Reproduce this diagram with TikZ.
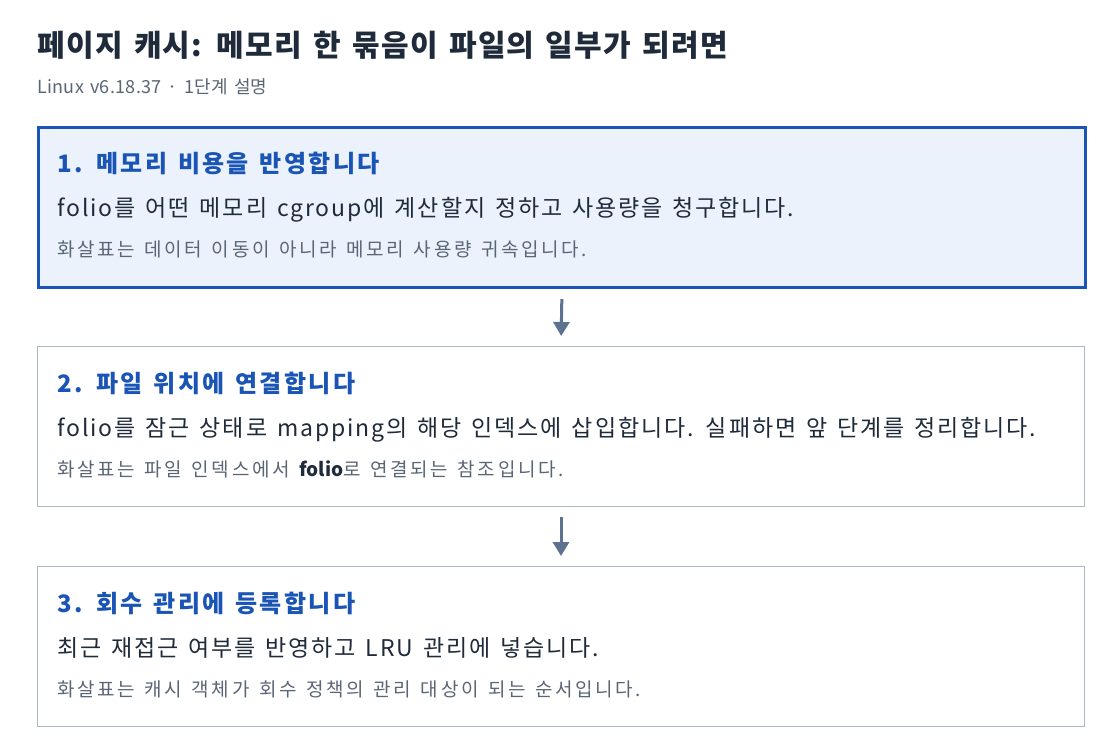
\documentclass[tikz,border=0pt]{standalone}
\usepackage{fontspec}
\setmainfont{Noto Sans CJK KR}[WordSpace=1.4]
\usetikzlibrary{arrows.meta}
\definecolor{titlec}{HTML}{1F2A3A}
\definecolor{subc}{HTML}{5A6575}
\definecolor{headc}{HTML}{1A55B5}
\definecolor{bodyc}{HTML}{1F2A3A}
\definecolor{capc}{HTML}{5A6575}
\definecolor{actfill}{HTML}{EBF2FC}
\definecolor{actdraw}{HTML}{1A55B5}
\definecolor{boxdraw}{HTML}{AEB8C4}
\definecolor{arrc}{HTML}{5B7291}
\begin{document}
\begin{tikzpicture}[x=0.75pt,y=-0.75pt,
  stage/.style={draw=boxdraw,line width=0.75pt,fill=white,minimum width=785.25pt,minimum height=120pt,inner sep=0pt,anchor=north west},
  active/.style={stage,draw=actdraw,fill=actfill,line width=2.25pt},
  titletxt/.style={anchor=base west,inner sep=0pt,font=\fontsize{22.5}{26}\selectfont\bfseries\addfontfeature{LetterSpace=4.3},text=titlec},
  subtxt/.style={anchor=base west,inner sep=0pt,font=\fontsize{13.5}{16}\selectfont\addfontfeature{LetterSpace=1.8},text=subc},
  head/.style={anchor=base west,inner sep=0pt,font=\fontsize{18}{21}\selectfont\bfseries\addfontfeature{LetterSpace=9.7},text=headc},
  body/.style={anchor=base west,inner sep=0pt,font=\fontsize{17.25}{20}\selectfont\addfontfeature{LetterSpace=8.3},text=bodyc},
  captxt/.style={anchor=base west,inner sep=0pt,font=\fontsize{14.25}{17}\selectfont\addfontfeature{LetterSpace=13.8},text=capc},
  flow/.style={draw=arrc,line width=2.25pt,-{Triangle[width=12pt,length=10.5pt]},shorten <=7.5pt,shorten >=7.5pt}]
\useasboundingbox[fill=white] (0,0) rectangle (1120,754);
\node[titletxt] (title) at (37,56) {페이지 캐시: 메모리 한 묶음이 파일의 일부가 되려면};
\node[subtxt] (sub) at (37,93) {Linux v6.18.37 · 1단계 설명};

\node[active] (b1) at (37,126) {};
\node[head] (h1) at (57,172) {1. 메모리 비용을 반영합니다};
\node[body] (t1) at (57,216) {folio를 어떤 메모리 cgroup에 계산할지 정하고 사용량을 청구합니다.};
\node[captxt] (c1) at (57,256) {화살표는 데이터 이동이 아니라 메모리 사용량 귀속입니다.};

\node[stage] (b2) at (37,346) {};
\node[head] (h2) at (57,392) {2. 파일 위치에 연결합니다};
\node[body] (t2) at (57,436) {folio를 잠근 상태로 mapping의 해당 인덱스에 삽입합니다. 실패하면 앞 단계를 정리합니다.};
\node[captxt] (c2) at (57,476) {화살표는 파일 인덱스에서 \textcolor{bodyc}{\bfseries\addfontfeature{LetterSpace=0}folio}로 연결되는 참조입니다.};

\node[stage] (b3) at (37,566) {};
\node[head] (h3) at (57,612) {3. 회수 관리에 등록합니다};
\node[body] (t3) at (57,656) {최근 재접근 여부를 반영하고 LRU 관리에 넣습니다.};
\node[captxt] (c3) at (57,696) {화살표는 캐시 객체가 회수 정책의 관리 대상이 되는 순서입니다.};

\draw[flow] (b1.south) -- (b2.north);
\draw[flow] (b2.south) -- (b3.north);
\end{tikzpicture}
\end{document}
